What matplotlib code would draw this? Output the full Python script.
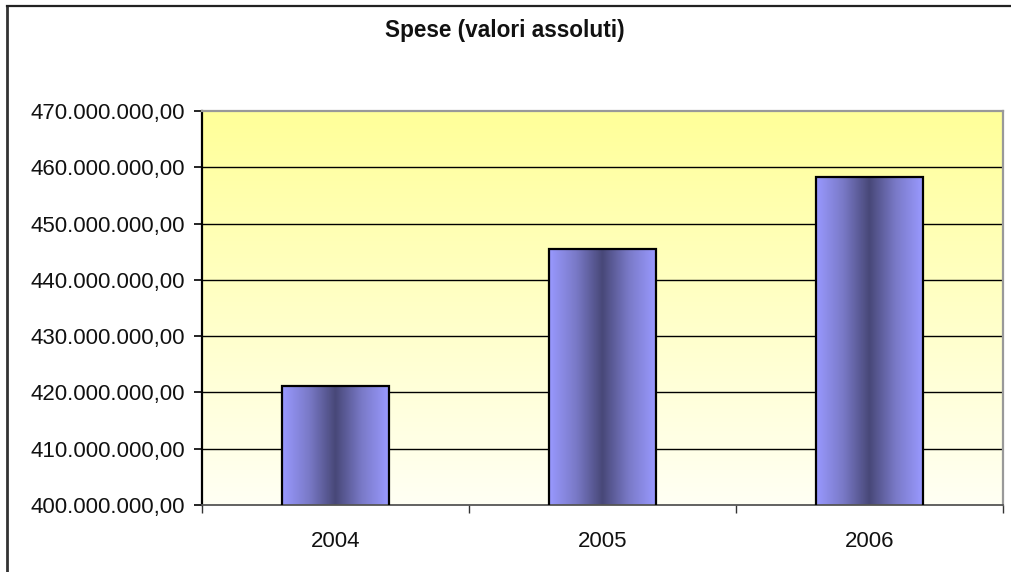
import numpy as np
import matplotlib
matplotlib.use("Agg")
import matplotlib.pyplot as plt
from matplotlib.colors import LinearSegmentedColormap
from matplotlib.ticker import FuncFormatter, FixedLocator

# Data
years = ["2004", "2005", "2006"]
spese = [421_100_000, 445_500_000, 458_300_000]
y_min, y_max, y_step = 400_000_000, 470_000_000, 10_000_000
title = "Spese (valori assoluti)"

W, H, DPI = 1011, 572, 100
fig = plt.figure(figsize=(W / DPI, H / DPI), dpi=DPI)
fig.patch.set_facecolor("white")

# Frame of the chart object (left and top edges)
fig.add_artist(plt.Line2D([7 / W, 7 / W], [0, 1 - 6 / H], transform=fig.transFigure,
                          color="#333333", lw=2.0))
fig.add_artist(plt.Line2D([7 / W, 1], [1 - 6 / H, 1 - 6 / H], transform=fig.transFigure,
                          color="#222222", lw=1.6))

left, right, top, bottom = 202, 1003, 111, 505
ax = fig.add_axes([left / W, 1 - bottom / H, (right - left) / W, (bottom - top) / H])

n = len(years)
x = np.arange(n)
ax.set_xlim(-0.5, n - 0.5)
ax.set_ylim(y_min, y_max)

# Plot-area background: pale yellow fading to near white downward
bg_cmap = LinearSegmentedColormap.from_list("bg", ["#FFFFF4", "#FFFF99"])
grad = np.linspace(0, 1, 256).reshape(-1, 1)
ax.imshow(grad, aspect="auto", cmap=bg_cmap, origin="lower",
          extent=[-0.5, n - 0.5, y_min, y_max], zorder=0, interpolation="bilinear")

# Gridlines
for v in range(y_min + y_step, y_max, y_step):
    ax.axhline(v, color="black", lw=1.0, zorder=1)

# Bars with a horizontal cylinder-like shading
bar_cmap = LinearSegmentedColormap.from_list(
    "bar", ["#9999FF", "#7A7AC8", "#484878", "#7A7AC8", "#9999FF"])
hgrad = np.linspace(0, 1, 256).reshape(1, -1)
bars = ax.bar(x, spese, width=0.4, bottom=0, facecolor="none",
              edgecolor="black", linewidth=1.6, zorder=3)
for b, val in zip(bars, spese):
    x0 = b.get_x()
    im = ax.imshow(hgrad, aspect="auto", cmap=bar_cmap,
                   extent=[x0, x0 + b.get_width(), y_min, val],
                   zorder=2, interpolation="bilinear")
    im.set_clip_path(b)

ax.set_xlim(-0.5, n - 0.5)
ax.set_ylim(y_min, y_max)

# Axes styling
ax.spines["left"].set_color("black")
ax.spines["left"].set_linewidth(1.6)
ax.spines["bottom"].set_color("#555555")
ax.spines["bottom"].set_linewidth(1.3)
ax.spines["top"].set_color("#999999")
ax.spines["top"].set_linewidth(1.6)
ax.spines["right"].set_color("#999999")
ax.spines["right"].set_linewidth(1.6)

def fmt_it(v, pos):
    s = f"{v:,.2f}"
    return s.replace(",", "X").replace(".", ",").replace("X", ".")

ax.yaxis.set_major_locator(FixedLocator(list(range(y_min, y_max + 1, y_step))))
ax.yaxis.set_major_formatter(FuncFormatter(fmt_it))
ax.set_xticks(x)
ax.set_xticklabels(years)
ax.xaxis.set_minor_locator(FixedLocator([-0.5 + i for i in range(n + 1)]))
ax.tick_params(axis="x", which="major", length=0, pad=18.5)
ax.tick_params(axis="x", which="minor", length=6, width=1.0, color="#333333")
ax.tick_params(axis="y", length=6, width=1.2, pad=6, color="black")
for lab in ax.get_xticklabels() + ax.get_yticklabels():
    lab.set_fontfamily("Liberation Sans")
    lab.set_fontsize(16)
    lab.set_color("#111111")

fig.text(505 / W, 1 - 31 / H, title, ha="center", va="center",
         fontsize=16.3, fontweight="bold", family="Liberation Sans", color="#111111")

fig.savefig("out.png", dpi=DPI)
